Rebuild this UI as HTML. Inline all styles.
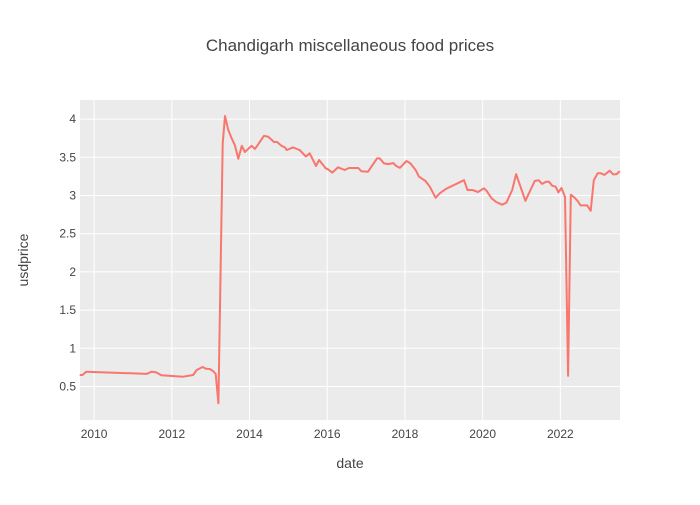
<!DOCTYPE html>
<html><head><meta charset="utf-8"><style>
body{margin:0;background:#fff;font-family:"Liberation Sans",sans-serif}
svg text{font-family:"Liberation Sans",sans-serif;fill:#444}
</style></head><body>
<svg id="chart" width="700" height="500">
<rect width="700" height="500" fill="#fff"/>
<rect id="plotbg" x="80" y="100" width="540" height="320" fill="#ebebeb"/>
<g id="grid"></g>
<g id="ticks"></g>
<path id="line" fill="none" stroke="#f8766d" stroke-width="2" stroke-linejoin="round"/>
<text x="350" y="51" text-anchor="middle" font-size="17">Chandigarh miscellaneous food prices</text>
<text x="350" y="468" text-anchor="middle" font-size="14">date</text>
<text x="28" y="260" text-anchor="middle" font-size="14" transform="rotate(-90 28 260)">usdprice</text>
</svg>
<script>
const dates=[2009.63,2009.70,2009.80,2011.35,2011.48,2011.59,2011.73,2012.29,2012.55,2012.64,2012.79,2012.88,2012.98,2013.06,2013.13,2013.20,2013.31,2013.37,2013.45,2013.54,2013.62,2013.71,2013.80,2013.88,2014.05,2014.14,2014.37,2014.48,2014.63,2014.71,2014.82,2014.91,2014.96,2015.12,2015.29,2015.45,2015.55,2015.71,2015.79,2015.96,2016.02,2016.13,2016.28,2016.45,2016.56,2016.80,2016.88,2017.05,2017.28,2017.35,2017.46,2017.57,2017.70,2017.78,2017.87,2018.04,2018.14,2018.28,2018.36,2018.53,2018.64,2018.79,2018.90,2019.07,2019.52,2019.61,2019.74,2019.88,2020.03,2020.10,2020.23,2020.35,2020.50,2020.61,2020.76,2020.86,2021.10,2021.34,2021.44,2021.53,2021.63,2021.71,2021.79,2021.88,2021.95,2022.03,2022.12,2022.20,2022.27,2022.37,2022.44,2022.52,2022.69,2022.78,2022.86,2022.96,2023.04,2023.13,2023.27,2023.36,2023.45,2023.53];
const prices=[0.65,0.65,0.694,0.665,0.694,0.686,0.647,0.628,0.651,0.716,0.755,0.733,0.729,0.703,0.664,0.28,3.68,4.04,3.86,3.75,3.66,3.48,3.65,3.57,3.65,3.61,3.78,3.77,3.70,3.70,3.65,3.63,3.596,3.63,3.596,3.51,3.552,3.386,3.465,3.356,3.343,3.30,3.369,3.334,3.36,3.36,3.317,3.311,3.486,3.486,3.42,3.411,3.424,3.385,3.363,3.451,3.42,3.33,3.247,3.19,3.115,2.97,3.03,3.09,3.20,3.072,3.072,3.046,3.094,3.063,2.963,2.915,2.88,2.906,3.072,3.28,2.93,3.19,3.20,3.152,3.18,3.18,3.128,3.115,3.04,3.10,2.98,0.64,3.01,2.97,2.93,2.87,2.87,2.80,3.20,3.29,3.29,3.27,3.324,3.276,3.28,3.32];
const xTicks=[2010,2012,2014,2016,2018,2020,2022];
const yTicks=[0.5,1,1.5,2,2.5,3,3.5,4];
const yTickLabels=["0.5","1","1.5","2","2.5","3","3.5","4"];
const X0=80,X1=620,Y0=420,Y1=100,xmin=2009.637,xmax=2023.535,ymin=0.0615,ymax=4.25;
const sx=v=>X0+(v-xmin)/(xmax-xmin)*(X1-X0);
const sy=v=>Y0-(v-ymin)/(ymax-ymin)*(Y0-Y1);
const NS="http://www.w3.org/2000/svg";
const grid=document.getElementById('grid'),ticks=document.getElementById('ticks');
xTicks.forEach(t=>{
  const l=document.createElementNS(NS,'line');
  l.setAttribute('x1',sx(t));l.setAttribute('x2',sx(t));l.setAttribute('y1',Y1);l.setAttribute('y2',Y0);
  l.setAttribute('stroke','#fff');l.setAttribute('stroke-width','1');
  
  
  grid.appendChild(l);
  const tx=document.createElementNS(NS,'text');
  tx.setAttribute('x',sx(t));tx.setAttribute('y',438);tx.setAttribute('text-anchor','middle');tx.setAttribute('font-size','12');
  tx.textContent=t;
  
  
  ticks.appendChild(tx);
});
yTicks.forEach((t,i)=>{
  const l=document.createElementNS(NS,'line');
  l.setAttribute('x1',X0);l.setAttribute('x2',X1);l.setAttribute('y1',sy(t));l.setAttribute('y2',sy(t));
  l.setAttribute('stroke','#fff');l.setAttribute('stroke-width','1');
  
  
  grid.appendChild(l);
  const tx=document.createElementNS(NS,'text');
  tx.setAttribute('x',76);tx.setAttribute('y',sy(t)+4);tx.setAttribute('text-anchor','end');tx.setAttribute('font-size','12');
  tx.textContent=yTickLabels[i];
  
  
  ticks.appendChild(tx);
});
document.getElementById('line').setAttribute('d',dates.map((d,i)=>(i?'L':'M')+sx(d).toFixed(1)+','+sy(prices[i]).toFixed(1)).join(''));
</script>
</body></html>
